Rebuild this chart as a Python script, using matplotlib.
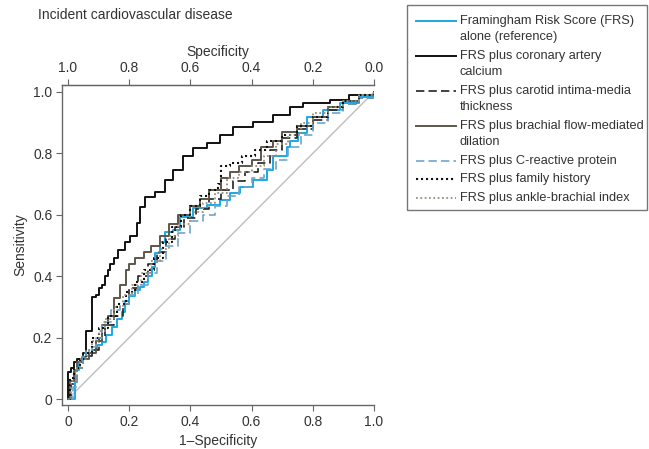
import numpy as np
import matplotlib
matplotlib.use("Agg")
import matplotlib.pyplot as plt
from matplotlib.lines import Line2D
from matplotlib.patches import Rectangle

plt.rcParams['font.family'] = ['Liberation Sans', 'DejaVu Sans']

# ---------------------ROC data-------------------------------------------
frs_fpr = [0, 0.023, 0.023, 0.035, 0.045, 0.06, 0.077, 0.095, 0.11, 0.125, 0.143, 0.16, 0.175, 0.186, 0.2, 0.219,
           0.235, 0.25, 0.262, 0.273, 0.284, 0.3, 0.317, 0.343, 0.366, 0.41, 0.453, 0.497, 0.53, 0.562, 0.605, 0.65,
           0.67, 0.715, 0.725, 0.752, 0.78, 0.834, 0.89, 0.95, 1.0]
frs_tpr = [0, 0.02, 0.094, 0.12, 0.138, 0.15, 0.16, 0.175, 0.187, 0.21, 0.235, 0.26, 0.284, 0.32, 0.335, 0.355,
           0.365, 0.382, 0.4, 0.43, 0.474, 0.51, 0.545, 0.55, 0.594, 0.622, 0.632, 0.648, 0.67, 0.69, 0.713, 0.746,
           0.79, 0.822, 0.84, 0.866, 0.92, 0.94, 0.964, 0.985, 1.0]

cac_fpr = [0, 0, 0.01, 0.02, 0.03, 0.05, 0.06, 0.077, 0.077, 0.09, 0.1, 0.11, 0.12, 0.13, 0.137, 0.15, 0.163,
           0.185, 0.203, 0.224, 0.235, 0.252, 0.284, 0.317, 0.343, 0.376, 0.41, 0.453, 0.497, 0.54, 0.605, 0.67,
           0.725, 0.768, 0.856, 0.92, 1.0]
cac_tpr = [0, 0.089, 0.10, 0.12, 0.13, 0.15, 0.22, 0.24, 0.333, 0.34, 0.36, 0.37, 0.40, 0.42, 0.44, 0.46, 0.485,
           0.51, 0.53, 0.573, 0.625, 0.659, 0.675, 0.713, 0.746, 0.79, 0.817, 0.833, 0.86, 0.887, 0.903, 0.925,
           0.952, 0.964, 0.974, 0.99, 1.0]

cimt_fpr = [0, 0.01, 0.03, 0.05, 0.08, 0.1, 0.12, 0.15, 0.18, 0.2, 0.23, 0.26, 0.29, 0.32, 0.35, 0.38, 0.42,
            0.46, 0.5, 0.54, 0.58, 0.62, 0.66, 0.7, 0.75, 0.8, 0.85, 0.9, 0.95, 1.0]
cimt_tpr = [0, 0.05, 0.1, 0.14, 0.16, 0.2, 0.24, 0.27, 0.31, 0.36, 0.40, 0.44, 0.48, 0.52, 0.56, 0.59, 0.62,
            0.65, 0.68, 0.71, 0.74, 0.77, 0.81, 0.85, 0.88, 0.91, 0.94, 0.96, 0.98, 1.0]

fmd_fpr = [0, 0.005, 0.02, 0.03, 0.05, 0.07, 0.09, 0.11, 0.13, 0.15, 0.17, 0.19, 0.2, 0.22, 0.25, 0.27, 0.3,
           0.33, 0.36, 0.4, 0.43, 0.46, 0.5, 0.53, 0.56, 0.6, 0.63, 0.67, 0.7, 0.75, 0.8, 0.85, 0.9, 0.95, 1.0]
fmd_tpr = [0, 0.06, 0.09, 0.12, 0.13, 0.15, 0.19, 0.24, 0.27, 0.33, 0.37, 0.42, 0.44, 0.46, 0.48, 0.5, 0.53,
           0.57, 0.60, 0.63, 0.65, 0.68, 0.72, 0.74, 0.76, 0.78, 0.82, 0.84, 0.87, 0.89, 0.92, 0.95, 0.97, 0.99, 1.0]

crp_fpr = [0, 0.015, 0.03, 0.05, 0.07, 0.09, 0.11, 0.14, 0.17, 0.2, 0.23, 0.26, 0.29, 0.32, 0.36, 0.4, 0.44,
           0.48, 0.52, 0.56, 0.6, 0.64, 0.68, 0.72, 0.76, 0.8, 0.85, 0.9, 0.95, 1.0]
crp_tpr = [0, 0.04, 0.1, 0.15, 0.17, 0.2, 0.25, 0.29, 0.31, 0.34, 0.37, 0.41, 0.45, 0.5, 0.54, 0.58, 0.6,
           0.63, 0.66, 0.69, 0.72, 0.75, 0.78, 0.82, 0.86, 0.9, 0.93, 0.96, 0.98, 1.0]

fam_fpr = [0, 0.005, 0.02, 0.04, 0.06, 0.08, 0.1, 0.13, 0.16, 0.19, 0.22, 0.25, 0.28, 0.31, 0.34, 0.37, 0.4,
           0.43, 0.46, 0.49, 0.5, 0.53, 0.57, 0.61, 0.65, 0.7, 0.75, 0.8, 0.85, 0.9, 0.95, 1.0]
fam_tpr = [0, 0.07, 0.1, 0.13, 0.15, 0.2, 0.23, 0.27, 0.31, 0.35, 0.38, 0.42, 0.46, 0.51, 0.56, 0.6, 0.63,
           0.66, 0.68, 0.70, 0.76, 0.77, 0.79, 0.81, 0.84, 0.86, 0.89, 0.92, 0.95, 0.97, 0.99, 1.0]

abi_fpr = [0, 0.01, 0.025, 0.04, 0.06, 0.08, 0.1, 0.12, 0.15, 0.18, 0.21, 0.24, 0.27, 0.3, 0.33, 0.36, 0.4,
           0.44, 0.48, 0.52, 0.56, 0.6, 0.64, 0.68, 0.72, 0.76, 0.8, 0.85, 0.9, 0.95, 1.0]
abi_tpr = [0, 0.06, 0.1, 0.13, 0.16, 0.19, 0.22, 0.26, 0.3, 0.34, 0.37, 0.41, 0.45, 0.49, 0.53, 0.57, 0.61,
           0.64, 0.67, 0.72, 0.74, 0.76, 0.79, 0.83, 0.86, 0.9, 0.93, 0.95, 0.97, 0.99, 1.0]

labels = ["Framingham Risk Score (FRS)\nalone (reference)",
          "FRS plus coronary artery\ncalcium",
          "FRS plus carotid intima-media\nthickness",
          "FRS plus brachial flow-mediated\ndilation",
          "FRS plus C-reactive protein",
          "FRS plus family history",
          "FRS plus ankle-brachial index"]

curves = [(frs_fpr, frs_tpr), (cac_fpr, cac_tpr), (cimt_fpr, cimt_tpr), (fmd_fpr, fmd_tpr),
          (crp_fpr, crp_tpr), (fam_fpr, fam_tpr), (abi_fpr, abi_tpr)]
colors = ['#1ea7e1', '#111111', '#222222', '#5c574a', '#6fa6cc', '#111111', '#9a8f7c']
styles = ['-', '-', (0, (5, 2.5)), '-', (0, (5, 2.5)), (0, (1, 1.4)), (0, (1, 1.4))]
widths = [1.4, 1.4, 1.2, 1.4, 1.2, 1.5, 1.3]

W, H = 649, 449


def px(x, y):
    # pixel position (from top-left) -> figure fraction
    return x / W, 1 - y / H


fig = plt.figure(figsize=(6.49, 4.49), dpi=100)
ax = fig.add_axes([0.0955, 0.098, 0.4807, 0.7127])

ax.plot([0, 1], [0, 1], color='#bdbdbd', lw=1.0, zorder=1)
order = [0, 6, 4, 2, 3, 5, 1]
for i in order:
    x, y = curves[i]
    ax.plot(x, y, drawstyle='steps-post', color=colors[i], ls=styles[i], lw=widths[i], zorder=2 + i)

ax.set_xlim(-0.0196, 1.0)
ax.set_ylim(-0.0195, 1.0228)
ax.spines['right'].set_visible(False)
for s in ['left', 'bottom', 'top']:
    ax.spines[s].set_color('#666666')
    ax.spines[s].set_linewidth(1.0)

ticks = [0, 0.2, 0.4, 0.6, 0.8, 1.0]
ax.set_xticks(ticks)
ax.set_xticklabels(["0", "0.2", "0.4", "0.6", "0.8", "1.0"])
ax.set_yticks(ticks)
ax.set_yticklabels(["0", "0.2", "0.4", "0.6", "0.8", "1.0"])
ax.tick_params(direction='out', length=4, color='#666666', labelsize=10, labelcolor='#333333', pad=3)
ax.set_xlabel("1\u2013Specificity", fontsize=10, color='#333333', labelpad=4)
ax.set_ylabel("Sensitivity", fontsize=10, color='#333333', labelpad=4)

sec = ax.secondary_xaxis('top', functions=(lambda v: 1 - v, lambda v: 1 - v))
sec.set_xticks(ticks)
sec.set_xticklabels(["0.0", "0.2", "0.4", "0.6", "0.8", "1.0"])
sec.tick_params(direction='out', length=4, color='#666666', labelsize=10, labelcolor='#333333', pad=3)
sec.spines['top'].set_color('#666666')
sec.set_xlabel("Specificity", fontsize=10, color='#333333', labelpad=4)

fig.text(38 / W, 1 - 15 / H, "Incident cardiovascular disease", fontsize=10, color='#333333', va='center')

# ---------------------legend drawn by hand-----------------------
fig.patches.append(Rectangle(px(407, 210), 240 / W, 205 / H, transform=fig.transFigure,
                             facecolor='white', edgecolor='#777777', lw=1.0))
line_gap = 16.5
entry_gap = 18.5
ypos = 20.7
texts = []
for i, lab in enumerate(labels):
    hx0, hy = px(416, ypos)
    hx1, _ = px(456, ypos)
    fig.lines.append(Line2D([hx0, hx1], [hy, hy], transform=fig.transFigure, color=colors[i],
                            ls=styles[i], lw=widths[i]))
    parts = lab.split("\n")
    for k, part in enumerate(parts):
        tx, ty = px(460, ypos)
        texts.append(fig.text(tx, ty, part, fontsize=10, color='#333333', va='center'))
        if k < len(parts) - 1:
            ypos += line_gap
    ypos += entry_gap

# shrink legend text if the widest line does not fit in the box
renderer = fig.canvas.get_renderer()
widest = max(t.get_window_extent(renderer).width for t in texts)
if widest > 185:
    for t in texts:
        t.set_fontsize(10 * 185 / widest)

fig.savefig("out.png", dpi=100)
